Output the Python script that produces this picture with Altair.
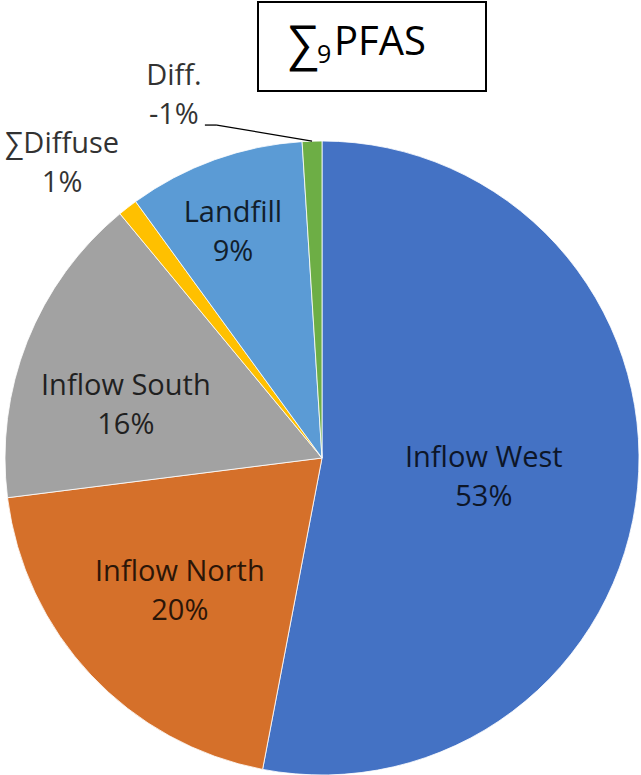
import altair as alt
import pandas as pd

# Mass-balance shares of ∑9PFAS by source (percent)
names = ["Inflow West", "Inflow North", "Inflow South", "∑Diffuse", "Landfill", "Diff."]
shares = [53, 20, 16, 1, 9, -1]
colors = ["#4472C4", "#D5702A", "#A2A2A2", "#FFC000", "#5B9BD5", "#6DAE45"]

# label placement: distance from the pie centre (px) and angular nudge
# away from the slice middle (degrees)
label_radius = [163, 195, 203, 393, 242, 392]
label_nudge = [1.6, 0.0, -6.7, -3.6, -1.8, -20.4]

CX, CY, R = 322, 458, 317
FONT = "Open Sans"
LINE_H = 39

df = pd.DataFrame({
    "name": names,
    "share": shares,
    "idx": list(range(len(names))),
    "lr": label_radius,
    "nudge": label_nudge,
})

base = alt.Chart(df).transform_calculate(size="abs(datum.share)")

arcs = base.mark_arc(outerRadius=R, stroke="white", strokeWidth=0.8).encode(
    theta=alt.Theta("size:Q", stack=True),
    color=alt.Color("name:N", scale=alt.Scale(domain=names, range=colors), legend=None),
    order=alt.Order("idx:Q"),
    x=alt.value(CX),
    y=alt.value(CY),
)

# polar geometry of each slice, derived from the stacked shares
geo = (
    base.transform_joinaggregate(total="sum(size)")
    .transform_window(cum="sum(size)", sort=[alt.SortField("idx")], frame=[None, 0])
    .transform_calculate(mid="(datum.cum - datum.size / 2) / datum.total * 2 * PI")
    .transform_calculate(ang="datum.mid + datum.nudge * PI / 180")
    .transform_calculate(
        lx=f"{CX} + datum.lr * sin(datum.ang)",
        ly=f"{CY} - datum.lr * cos(datum.ang)",
        label="datum.name + '\\n' + datum.share + '%'",
    )
    # the first line sits half a line above the centre of the two-line block
    .transform_calculate(ty=f"datum.ly - {LINE_H / 2}")
)

labels = geo.mark_text(
    font=FONT, fontSize=29, lineHeight=LINE_H, lineBreak="\n",
    align="center", baseline="middle", color="black", opacity=0.8,
).encode(
    x=alt.X("lx:Q", scale=None),
    y=alt.Y("ty:Q", scale=None),
    text="label:N",
)

# leader line from the "Diff." label to the rim of its slice
leader_geo = geo.transform_filter("datum.name == 'Diff.'").transform_calculate(
    sx="datum.lx + 31", sy="datum.ly + 30",
    kx="datum.lx + 43",
    ex=f"{CX} + {R} * sin(datum.mid)", ey=f"{CY} - {R} * cos(datum.mid)",
)
leader_h = leader_geo.mark_rule(color="black", strokeWidth=1.3).encode(
    x=alt.X("sx:Q", scale=None), x2="kx:Q",
    y=alt.Y("sy:Q", scale=None), y2="sy:Q",
)
leader_d = leader_geo.mark_rule(color="black", strokeWidth=1.3).encode(
    x=alt.X("kx:Q", scale=None), x2="ex:Q",
    y=alt.Y("sy:Q", scale=None), y2="ey:Q",
)

# boxed title "∑9PFAS" with subscript 9
one = alt.Data(values=[{}])
box = alt.Chart(one).mark_rect(fill="white", stroke="black", strokeWidth=2).encode(
    x=alt.value(258), x2=alt.value(486), y=alt.value(2), y2=alt.value(91)
)
t_sigma = alt.Chart(one).mark_text(
    text="∑", font=FONT, fontSize=48, align="left", baseline="alphabetic", color="black"
).encode(x=alt.value(288), y=alt.value(60))
t_sub = alt.Chart(one).mark_text(
    text="9", font=FONT, fontSize=25, align="left", baseline="alphabetic", color="black"
).encode(x=alt.value(317), y=alt.value(63))
t_main = alt.Chart(one).mark_text(
    text="PFAS", font=FONT, fontSize=40, align="left", baseline="alphabetic", color="black"
).encode(x=alt.value(334), y=alt.value(55))

chart = alt.layer(
    arcs, labels, leader_h, leader_d, box, t_sigma, t_sub, t_main
).properties(
    width=641, height=775, autosize="none", padding=0,
).configure_view(stroke=None)

chart.save("out.html", embed_options={"renderer": "svg", "actions": False})
